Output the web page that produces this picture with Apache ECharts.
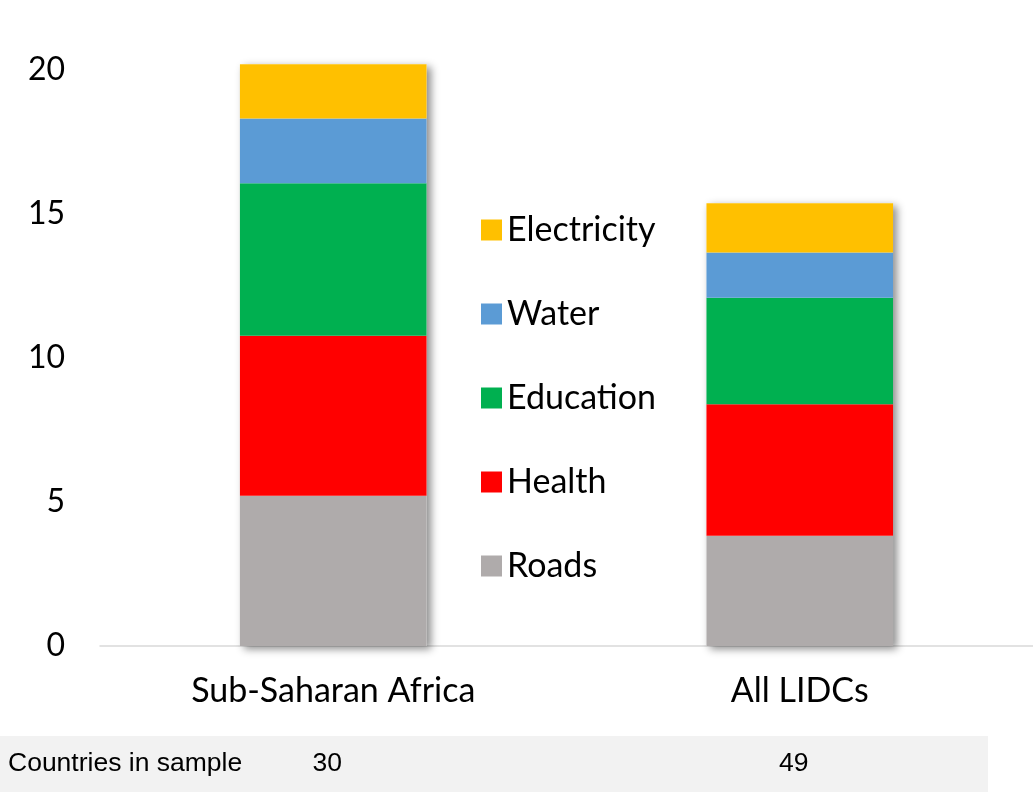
<!DOCTYPE html>
<html>
<head>
<meta charset="utf-8">
<script src="https://cdn.jsdelivr.net/npm/echarts@6/dist/echarts.min.js"></script>
<style>
  html, body { margin: 0; padding: 0; background: #fff; }
  #chart { width: 1033px; height: 792px; }
</style>
</head>
<body>
<div id="chart"></div>
<script>
// categories and stacked components
const regions = ["Sub-Saharan Africa", "All LIDCs"];
const roads = [5.22, 3.83];
const health = [5.55, 4.56];
const education = [5.3, 3.7];
const water = [2.25, 1.57];
const electricity = [1.88, 1.71];
const sampleCounts = ["30", "49"];
const yTicks = [0, 5, 10, 15, 20];

const colors = {
    Roads: "#AFABAB",
    Health: "#FF0000",
    Education: "#00B050",
    Water: "#5B9BD5",
    Electricity: "#FFC000"
};

const parts = [
    { name: "Roads", data: roads },
    { name: "Health", data: health },
    { name: "Education", data: education },
    { name: "Water", data: water },
    { name: "Electricity", data: electricity }
];

// totals only used to cast one shadow behind each whole stack
const totals = regions.map((_, i) => parts.reduce((s, p) => s + p.data[i], 0));

const labelFont = "Lato";

const chart = echarts.init(document.getElementById("chart"));

const series = parts.map(p => ({
    name: p.name,
    type: "bar",
    stack: "total",
    barWidth: "40%",
    barGap: "-100%",
    z: 3,
    clip: false,
    silent: true,
    itemStyle: { color: colors[p.name] },
    data: p.data
}));

series.unshift({
    name: "shadow",
    type: "bar",
    barWidth: "40%",
    barGap: "-100%",
    z: 2,
    clip: false,
    silent: true,
    itemStyle: {
        color: "#ffffff",
        shadowColor: "rgba(0,0,0,0.45)",
        shadowBlur: 8,
        shadowOffsetX: 4,
        shadowOffsetY: 3
    },
    data: totals
});

chart.setOption({
    backgroundColor: "#ffffff",
    animation: false,

    grid: { left: 100, right: 0, top: 70, bottom: 146 },

    legend: {
        orient: "vertical",
        left: 476,
        top: 208,
        data: ["Electricity", "Water", "Education", "Health", "Roads"],
        icon: "rect",
        itemWidth: 21,
        itemHeight: 21,
        itemGap: 50,
        selectedMode: false,
        textStyle: {
            fontFamily: labelFont,
            fontSize: 34,
            color: "#000",
            lineHeight: 34,
            padding: [0, 0, 0, 0]
        }
    },

    xAxis: {
        type: "category",
        data: regions,
        axisLine: { lineStyle: { color: "#d9d9d9", width: 1.5 } },
        axisTick: { show: false },
        axisLabel: {
            fontFamily: labelFont,
            fontSize: 34,
            color: "#000",
            margin: 28
        }
    },

    yAxis: {
        type: "value",
        min: yTicks[0],
        max: yTicks[yTicks.length - 1],
        interval: 5,
        splitLine: { show: false },
        axisLine: { show: false },
        axisTick: { show: false },
        axisLabel: {
            fontFamily: labelFont,
            fontSize: 32,
            color: "#000",
            margin: 35
        }
    },

    series: series
});

// sample size row under the chart
const countTexts = sampleCounts.map((c, i) => {
    const x = chart.convertToPixel({ xAxisIndex: 0 }, regions[i]);
    return {
        type: "text",
        x: x - 6,
        y: 764,
        style: {
            text: c,
            fontFamily: "Liberation Sans",
            fontSize: 26.5,
            fill: "#000",
            align: "center",
            verticalAlign: "middle"
        }
    };
});

chart.setOption({
    graphic: [
        {
            type: "rect",
            x: 0,
            y: 736,
            z: -1,
            shape: { width: 988, height: 56 },
            style: { fill: "#f2f2f2" }
        },
        {
            type: "text",
            x: 8,
            y: 764,
            style: {
                text: "Countries in sample",
                fontFamily: "Liberation Sans",
                fontSize: 26.5,
                fill: "#000",
                verticalAlign: "middle"
            }
        },
        ...countTexts
    ]
});
</script>
</body>
</html>
